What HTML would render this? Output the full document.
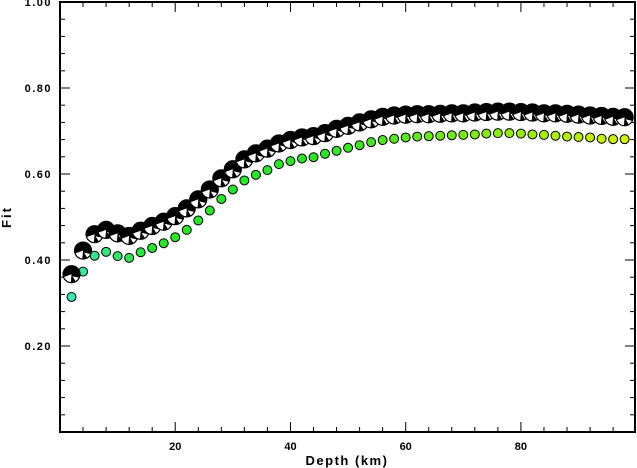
<!DOCTYPE html>
<html><head><meta charset="utf-8"><style>
html,body{margin:0;padding:0;background:#fff;}
svg{display:block;font-family:"Liberation Sans",sans-serif;font-weight:bold;}
</style></head><body>
<svg id="chart" width="637" height="468" viewBox="0 0 637 468" xmlns="http://www.w3.org/2000/svg">
<g id="axes"></g>
<g id="green"></g>
<g id="balls"></g>
<text x="347" y="465" text-anchor="middle" font-size="13" letter-spacing="1.5">Depth (km)</text>
<text transform="translate(11,217) rotate(-90)" text-anchor="middle" font-size="13" letter-spacing="2">Fit</text>
</svg>
<script>
const depths = [2,4,6,8,10,12,14,16,18,20,22,24,26,28,30,32,34,36,38,40,42,44,46,48,50,52,54,56,58,60,62,64,66,68,70,72,74,76,78,80,82,84,86,88,90,92,94,96,98];
const fitBest = [.367,.422,.460,.470,.462,.456,.468,.479,.489,.502,.520,.541,.564,.590,.611,.634,.648,.659,.671,.679,.685,.688,.695,.705,.712,.720,.727,.733,.736,.738,.739,.739,.740,.741,.741,.743,.744,.745,.745,.744,.743,.741,.741,.740,.738,.736,.735,.733,.732];
const fitGreen = [.314,.373,.410,.419,.409,.405,.418,.428,.439,.453,.470,.492,.515,.542,.564,.585,.598,.609,.623,.630,.636,.639,.647,.654,.661,.667,.674,.679,.682,.685,.687,.688,.689,.690,.691,.692,.694,.695,.695,.694,.692,.691,.689,.687,.686,.685,.682,.681,.681];
const xTickLabels = [20,40,60,80];
const yTickLabels = ["0.20","0.40","0.60","0.80","1.00"];

const L=60,R=635,T=2,B=432, XMAX=99.8;
const x = d => L + d/XMAX*(R-L);
const y = v => B - v*(B-T);
const NS="http://www.w3.org/2000/svg";
function mk(tag, attrs, parent){const e=document.createElementNS(NS,tag);for(const k in attrs)e.setAttribute(k,attrs[k]);parent.appendChild(e);return e;}
const axes=document.getElementById('axes');
const frame=mk('rect',{x:L,y:T,width:R-L,height:B-T,fill:'none',stroke:'#000','stroke-width':2},axes);


for(let d=4; d<XMAX; d+=4){
  const major = d%20===0, len = major?10:5;
  const t1=mk('line',{x1:x(d),x2:x(d),y1:B,y2:B-len,stroke:'#000','stroke-width':1},axes);
  
  
  const t2=mk('line',{x1:x(d),x2:x(d),y1:T,y2:T+len,stroke:'#000','stroke-width':1},axes);
  
  
}
xTickLabels.forEach(v=>{
  const t=mk('text',{x:x(v),y:B+18,'text-anchor':'middle','font-size':11},axes);
  t.textContent=v;
  
  
});
for(let i=1;i<25;i++){
  const v=i*0.04, major = i%5===0, len = major?10:5;
  const a=mk('line',{x1:L,x2:L+len,y1:y(v),y2:y(v),stroke:'#000','stroke-width':1},axes);
  
  
  const b=mk('line',{x1:R,x2:R-len,y1:y(v),y2:y(v),stroke:'#000','stroke-width':1},axes);
  
  
}
yTickLabels.forEach(s=>{
  const t=mk('text',{x:L-8,y:y(parseFloat(s))+4,'text-anchor':'end','font-size':11,'letter-spacing':1.5},axes);
  t.textContent=s;
  
  
});
function gcol(i,n){
  const f=i/(n-1);
  let r,g,b;
  if(f<0.15){const k=f/0.15;r=Math.round(60-20*k);g=230;b=Math.round(180-140*k);}
  else if(f<0.45){r=40;g=230;b=40;}
  else{const k=(f-0.45)/0.55;r=Math.round(40+170*k);g=Math.round(230+10*k);b=Math.round(40-40*k);}
  return `rgb(${r},${g},${b})`;
}
const gg=document.getElementById('green');
depths.forEach((d,i)=>{
  const c=mk('circle',{cx:x(d),cy:y(fitGreen[i]),r:4.5,fill:gcol(i,depths.length),stroke:'#000','stroke-width':1},gg);
  
  
});
const bg=document.getElementById('balls');
depths.forEach((d,i)=>{
  const cx=x(d), cy=y(fitBest[i]), r=8.5;
  const g=mk('g',{},bg);
  
  
  mk('circle',{cx:cx,cy:cy,r:r,fill:'#000'},g);
  const p=(a)=>[cx+r*Math.cos(a*Math.PI/180), cy+r*Math.sin(a*Math.PI/180)];
  const [x1,y1]=p(95),[x2,y2]=p(160);
  mk('path',{d:`M${cx},${cy} L${x1},${y1} A${r},${r} 0 0 1 ${x2},${y2} Z`,fill:'#fff'},g);
  const [x3,y3]=p(25),[x4,y4]=p(60);
  mk('path',{d:`M${cx+1},${cy+2} L${x3},${y3} A${r},${r} 0 0 1 ${x4},${y4} Z`,fill:'#fff'},g);
  mk('circle',{cx:cx,cy:cy,r:r,fill:'none',stroke:'#000','stroke-width':1.2},g);
});
</script>
</body></html>
